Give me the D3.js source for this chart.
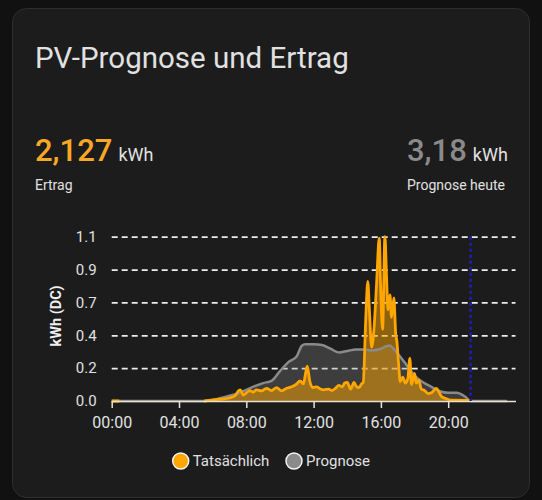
<!DOCTYPE html>
<html lang="de">
<head>
<meta charset="utf-8">
<title>PV-Prognose und Ertrag</title>
<script src="https://cdn.jsdelivr.net/npm/d3@7"></script>
<style>
  body { margin: 0; background: #111111; }
  svg { display: block; font-family: Roboto, "Noto Sans", sans-serif; }
</style>
</head>
<body>
<svg width="542" height="500"></svg>
<script>
  // header values
  var title = "PV-Prognose und Ertrag";
  var unit = "kWh";
  var ertragValue = "2,127";
  var ertragLabel = "Ertrag";
  var prognoseValue = "3,18";
  var prognoseLabel = "Prognose heute";

  var seriesNames = ["Tatsächlich", "Prognose"];
  var xTicks = [0, 4, 8, 12, 16, 20];
  var yTicks = [0, 0.22, 0.44, 0.66, 0.88, 1.1];
  var nowHour = 21.33;

  // forecast (gray), hours of day / kWh
  var forecastHours = [0, 5.5, 6, 6.5, 7, 7.5, 8, 8.5, 9, 9.5, 10, 10.5, 11, 11.3, 11.5, 12, 12.5,
    13, 13.5, 14, 14.5, 15, 15.5, 16, 16.5, 17, 17.5, 18, 18.5, 19, 19.5, 20, 20.5, 21, 21.33, 23.5];
  var forecastKwh = [0, 0, 0.005, 0.02, 0.035, 0.05, 0.075, 0.1, 0.12, 0.135, 0.2, 0.26, 0.3, 0.37, 0.38, 0.38, 0.375,
    0.35, 0.325, 0.335, 0.345, 0.345, 0.338, 0.35, 0.372, 0.315, 0.245, 0.17, 0.125, 0.095, 0.065, 0.055, 0.056, 0.03, 0, 0];

  // actual yield (orange), null = no data
  var actualHours = [0, 0.45, 0.5, 5.5, 6.0, 6.5, 7.0, 7.33, 7.55, 7.65, 7.82, 8.0, 8.22, 8.4, 8.6, 8.9, 9.2, 9.5,
    9.8, 10.1, 10.4, 10.7, 11.0, 11.2, 11.4, 11.5, 11.62, 11.78, 11.95, 12.2, 12.4, 12.6, 12.9, 13.1, 13.3,
    13.5, 13.7, 13.85, 14.0, 14.2, 14.4, 14.55, 14.7, 14.85, 14.95, 15.1, 15.22, 15.32, 15.45, 15.6, 15.75,
    15.9, 16.0, 16.1, 16.24, 16.33, 16.42, 16.54, 16.63, 16.77, 16.88, 16.95, 17.05, 17.15, 17.3, 17.45,
    17.6, 17.72, 17.82, 18.0, 18.1, 18.25, 18.4, 18.6, 18.8, 19.0, 19.3, 19.45, 19.6, 19.9, 20.2, 21.33];
  var actualKwh = [0, 0, null, 0, 0.008, 0.012, 0.02, 0.035, 0.07, 0.075, 0.04, 0.055, 0.07, 0.06, 0.075, 0.068, 0.085, 0.07,
    0.09, 0.068, 0.085, 0.095, 0.115, 0.135, 0.115, 0.17, 0.234, 0.13, 0.09, 0.095, 0.08, 0.075, 0.08, 0.07, 0.085,
    0.105, 0.095, 0.12, 0.125, 0.08, 0.125, 0.095, 0.09, 0.115, 0.125, 0.55, 0.8, 0.6, 0.36, 0.5, 0.8,
    1.09, 0.7, 0.48, 1.1, 0.85, 0.61, 0.71, 0.56, 0.69, 0.45, 0.4, 0.25, 0.13, 0.16, 0.12,
    0.15, 0.286, 0.11, 0.185, 0.12, 0.14, 0.08, 0.07, 0.05, 0.055, 0.085, 0.06, 0.03, 0.015, 0.005, 0.004];

  var orange = "#ffa600";
  var gray = "#8a8a8a";
  var textColor = "#e1e1e1";

  var svg = d3.select("svg");

  // card
  svg.append("rect")
    .attr("x", 12.5).attr("y", 8.5)
    .attr("width", 517).attr("height", 489)
    .attr("rx", 14)
    .attr("fill", "#1c1c1c")
    .attr("stroke", "#2e2e2e");

  svg.append("text")
    .attr("x", 35).attr("y", 68)
    .attr("font-size", 29.5)
    .attr("fill", textColor)
    .text(title);

  function stat(x, value, color, label) {
    var t = svg.append("text")
      .attr("x", x).attr("y", 161)
      .attr("font-size", 31)
      .attr("font-weight", 500)
      .attr("fill", color)
      .text(value);
    t.append("tspan")
      .attr("dx", 6)
      .attr("font-size", 18)
      .attr("font-weight", 400)
      .attr("fill", textColor)
      .text(unit);
    svg.append("text")
      .attr("x", x).attr("y", 190)
      .attr("font-size", 14)
      .attr("fill", textColor)
      .text(label);
  }
  stat(35, ertragValue, "#f9a825", ertragLabel);
  stat(407, prognoseValue, gray, prognoseLabel);

  // chart
  var x = d3.scaleLinear().domain([0, 24]).range([111.7, 515.5]);
  var y = d3.scaleLinear().domain([0, 1.1]).range([401, 236.7]);

  var forecast = forecastHours.map(function(h, i) { return [h, forecastKwh[i]]; });
  var actual = actualHours.map(function(h, i) { return [h, actualKwh[i]]; });

  var area = d3.area()
    .defined(function(d) { return d[1] != null; })
    .x(function(d) { return x(d[0]); })
    .y0(y(0))
    .y1(function(d) { return y(d[1]); })
    .curve(d3.curveMonotoneX);
  var line = area.lineY1();

  // y grid + labels
  var yAxis = svg.append("g")
    .attr("transform", "translate(" + x(0) + ",0)")
    .call(d3.axisLeft(y)
      .tickValues(yTicks)
      .tickFormat(d3.format(".1f"))
      .tickSize(-(x(24) - x(0)))
      .tickPadding(15));
  yAxis.select(".domain").remove();
  yAxis.selectAll(".tick line")
    .attr("stroke", "#ececec")
    .attr("stroke-width", 1.8)
    .attr("stroke-dasharray", "6,4")
    .filter(function(d) { return d === 0; }).remove();
  yAxis.selectAll(".tick text")
    .attr("fill", textColor)
    .attr("font-size", 15)
    .attr("font-family", "Roboto, sans-serif");

  svg.append("text")
    .attr("transform", "translate(61,316) rotate(-90)")
    .attr("text-anchor", "middle")
    .attr("font-size", 14.5)
    .attr("font-weight", "bold")
    .attr("fill", "#f0f0f0")
    .text("kWh (DC)");

  svg.append("path")
    .datum(forecast)
    .attr("fill", gray)
    .attr("fill-opacity", 0.3)
    .attr("d", area);

  svg.append("path")
    .datum(actual)
    .attr("fill", orange)
    .attr("fill-opacity", 0.5)
    .attr("d", area);

  svg.append("path")
    .datum(forecast)
    .attr("fill", "none")
    .attr("stroke", gray)
    .attr("stroke-width", 2.5)
    .attr("stroke-linejoin", "round")
    .attr("d", line);

  svg.append("path")
    .datum(actual)
    .attr("fill", "none")
    .attr("stroke", orange)
    .attr("stroke-width", 2.8)
    .attr("stroke-linejoin", "round")
    .attr("d", line);

  // x axis
  var xAxis = svg.append("g")
    .attr("transform", "translate(0," + y(0) + ")")
    .call(d3.axisBottom(x)
      .tickValues(xTicks)
      .tickFormat(function(h) { return d3.format("02")(h) + ":00"; })
      .tickSize(7)
      .tickSizeOuter(0)
      .tickPadding(9));
  xAxis.select(".domain").attr("stroke", "#e8e2d6").attr("stroke-width", 1.5);
  xAxis.selectAll(".tick line").attr("stroke", "#e8e2d6").attr("stroke-width", 1.5);
  xAxis.selectAll(".tick text")
    .attr("fill", textColor)
    .attr("font-size", 16)
    .attr("font-family", "Roboto, sans-serif");

  // current time marker
  svg.append("line")
    .attr("x1", x(nowHour)).attr("x2", x(nowHour))
    .attr("y1", y(1.1)).attr("y2", y(0))
    .attr("stroke", "#1e1eb4")
    .attr("stroke-width", 2.5)
    .attr("stroke-dasharray", "3,3");

  // legend
  var legendColors = [orange, gray];
  var legendX = [180.7, 294];
  var legend = svg.selectAll(".legend")
    .data(seriesNames)
    .enter().append("g")
    .attr("class", "legend")
    .attr("transform", function(d, i) { return "translate(" + legendX[i] + ",461)"; });
  legend.append("circle")
    .attr("r", 8)
    .attr("fill", function(d, i) { return legendColors[i]; })
    .attr("stroke", "#f4f4f4")
    .attr("stroke-width", 1.5);
  legend.append("text")
    .attr("x", 12)
    .attr("dy", "0.35em")
    .attr("font-size", 15)
    .attr("fill", textColor)
    .text(function(d) { return d; });
</script>
</body>
</html>
